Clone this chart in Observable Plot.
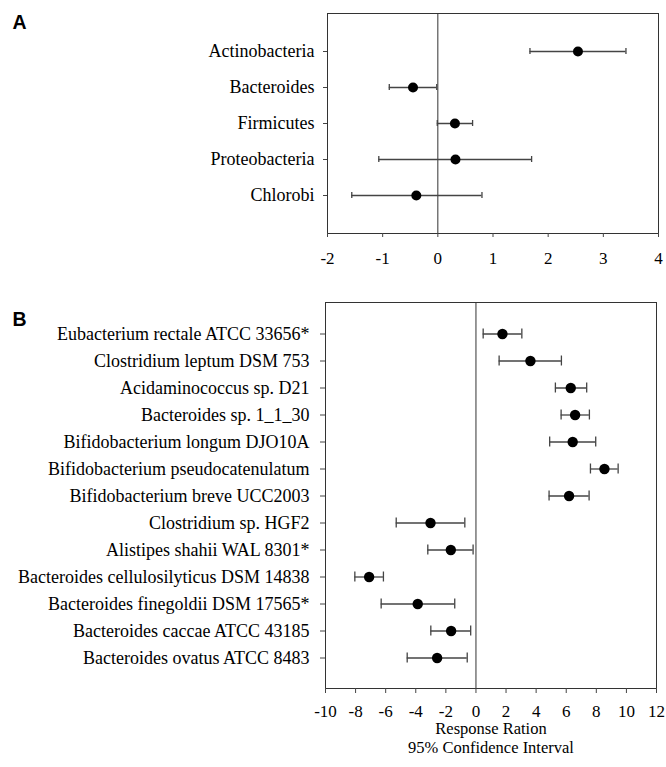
<!DOCTYPE html>
<html>
<head>
<meta charset="utf-8">
<script src="https://cdn.jsdelivr.net/npm/d3@7"></script>
<script src="https://cdn.jsdelivr.net/npm/@observablehq/plot@0.6"></script>
<style>
  html, body { margin: 0; padding: 0; background: #fff; }
  #chart { width: 666px; height: 767px; position: relative; }
  #chart svg { display: block; }
</style>
</head>
<body>
<div id="chart"></div>
<script>
// Panel A: phyla
const phyla = ["Actinobacteria", "Bacteroides", "Firmicutes", "Proteobacteria", "Chlorobi"];
const phylaMean = [2.54, -0.45, 0.31, 0.32, -0.39];
const phylaLo = [1.67, -0.88, -0.01, -1.07, -1.56];
const phylaHi = [3.41, -0.02, 0.63, 1.70, 0.80];
const ticksA = [-2, -1, 0, 1, 2, 3, 4];

// Panel B: strains
const strains = [
  "Eubacterium rectale ATCC 33656*",
  "Clostridium leptum DSM 753",
  "Acidaminococcus sp. D21",
  "Bacteroides sp. 1_1_30",
  "Bifidobacterium longum DJO10A",
  "Bifidobacterium pseudocatenulatum",
  "Bifidobacterium breve UCC2003",
  "Clostridium sp. HGF2",
  "Alistipes shahii WAL 8301*",
  "Bacteroides cellulosilyticus DSM 14838",
  "Bacteroides finegoldii DSM 17565*",
  "Bacteroides caccae ATCC 43185",
  "Bacteroides ovatus ATCC 8483"
];
const strainMean = [1.76, 3.62, 6.30, 6.59, 6.43, 8.54, 6.19, -3.02, -1.67, -7.10, -3.87, -1.65, -2.58];
const strainLo = [0.48, 1.54, 5.28, 5.66, 4.90, 7.61, 4.86, -5.30, -3.20, -8.05, -6.30, -3.00, -4.57];
const strainHi = [3.05, 5.68, 7.36, 7.54, 7.96, 9.45, 7.52, -0.74, -0.19, -6.15, -1.41, -0.35, -0.58];
const ticksB = [-10, -8, -6, -4, -2, 0, 2, 4, 6, 8, 10, 12];

const axisTitle = ["Response Ration", "95% Confidence Interval"];

const dataA = phyla.map((name, i) => ({name, mean: phylaMean[i], lo: phylaLo[i], hi: phylaHi[i]}));
const dataB = strains.map((name, i) => ({name, mean: strainMean[i], lo: strainLo[i], hi: strainHi[i]}));

const serif = "'Liberation Serif', 'Times New Roman', serif";
const sans = "'Liberation Sans', Arial, sans-serif";

function panel({data, domain, ticks, width, height, marginLeft, marginRight, marginTop, marginBottom,
                yTickSize, yTickPad, xTickSize, xTickPad, capInset, letter, letterDy, r, extra = []}) {
  return Plot.plot({
    width, height, marginLeft, marginRight, marginTop, marginBottom,
    x: {domain, label: null},
    y: {type: "band", domain: data.map(d => d.name), paddingInner: 0, paddingOuter: 0.5, label: null},
    style: {fontFamily: serif, fontSize: "18px", color: "#000", background: "#fff", overflow: "visible"},
    marks: [
      Plot.frame({stroke: "#333", strokeWidth: 1}),
      Plot.ruleX([0], {stroke: "#333", strokeWidth: 1}),
      Plot.axisY({tickSize: yTickSize, tickPadding: yTickPad, label: null, stroke: "#444",
        fontSize: 18, fontFamily: serif, fill: "#000"}),
      Plot.axisX({ticks, tickSize: xTickSize, tickPadding: xTickPad, label: null, stroke: "#444",
        fontSize: 17, fontFamily: serif, fill: "#000", fontVariant: "normal", tickFormat: d => String(d)}),
      Plot.ruleY(data, {y: "name", x1: "lo", x2: "hi", stroke: "#444", strokeWidth: 1.3}),
      Plot.tickX(data, {x: "lo", y: "name", insetTop: capInset, insetBottom: capInset, stroke: "#444", strokeWidth: 1.3}),
      Plot.tickX(data, {x: "hi", y: "name", insetTop: capInset, insetBottom: capInset, stroke: "#444", strokeWidth: 1.3}),
      Plot.dot(data, {x: "mean", y: "name", r, fill: "#000", stroke: "none"}),
      Plot.text([letter], {frameAnchor: "top-left", textAnchor: "start", lineAnchor: "top",
        dx: 12 - marginLeft, dy: letterDy, fontFamily: sans, fontWeight: "bold", fontSize: 19.5, fill: "#000"}),
      ...extra
    ]
  });
}

const plotA = panel({
  data: dataA, domain: [-2, 4], ticks: ticksA,
  width: 666, height: 270, marginLeft: 327, marginRight: 8, marginTop: 13, marginBottom: 37,
  yTickSize: 4, yTickPad: 9, xTickSize: 4, xTickPad: 14, capInset: 15, letter: "A", letterDy: 1.5, r: 5
});

const plotB = panel({
  data: dataB, domain: [-10, 12], ticks: ticksB,
  width: 666, height: 497, marginLeft: 325, marginRight: 10, marginTop: 32, marginBottom: 79,
  yTickSize: 5, yTickPad: 11, xTickSize: 5, xTickPad: 11, capInset: 8.5, letter: "B", letterDy: 9.5, r: 5.2,
  extra: [
    Plot.text([axisTitle[0]], {frameAnchor: "bottom", lineAnchor: "top", dy: 34, fontSize: 16.5,
      fontFamily: serif, fill: "#000"}),
    Plot.text([axisTitle[1]], {frameAnchor: "bottom", lineAnchor: "top", dy: 53, fontSize: 16.5,
      fontFamily: serif, fill: "#000"})
  ]
});

const chart = document.getElementById("chart");
chart.appendChild(plotA);
chart.appendChild(plotB);
</script>
</body>
</html>
